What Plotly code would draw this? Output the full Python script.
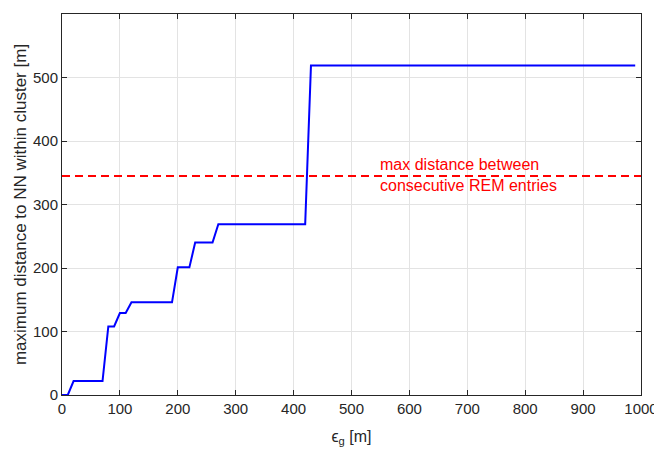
import plotly.graph_objects as go

eps_g = [0, 10, 20, 70, 80, 90, 100, 110, 120, 190, 200, 220, 230, 260, 270, 420, 430, 990]
max_dist = [0, 0, 22, 22, 108, 108, 129, 129, 146, 146, 201, 201, 240, 240, 269, 269, 519, 519]
rem_x = [0, 1000]
rem_y = [345, 345]
x_ticks = list(range(0, 1001, 100))
y_ticks = list(range(0, 601, 100))

fig = go.Figure()
fig.add_trace(go.Scatter(x=eps_g, y=max_dist, mode="lines",
                         line=dict(color="#0000ff", width=2), showlegend=False))
fig.add_trace(go.Scatter(x=rem_x, y=rem_y, mode="lines",
                         line=dict(color="#ff0000", width=2, dash="8px,5px"), showlegend=False))
fig.add_annotation(x=545, y=345, xref="x", yref="y", text="max distance between",
                   showarrow=False, xanchor="left", yanchor="bottom", yshift=1,
                   font=dict(color="#ff0000", size=16))
fig.add_annotation(x=545, y=345, xref="x", yref="y", text="consecutive REM entries",
                   showarrow=False, xanchor="left", yanchor="top", yshift=1,
                   font=dict(color="#ff0000", size=16))

axis_common = dict(showgrid=True, gridcolor="#e3e3e3", gridwidth=1, zeroline=False,
                   showline=True, linecolor="#262626", linewidth=1, mirror="ticks",
                   ticks="inside", ticklen=5, tickcolor="#262626", automargin=False,
                   tickfont=dict(size=15, color="#262626"))
fig.update_xaxes(range=[0, 1000], tickvals=x_ticks,
                 title=dict(text="ϵ<sub>g</sub> [m]", font=dict(size=16, color="#262626"), standoff=14),
                 **axis_common)
fig.update_yaxes(range=[0, 600], tickvals=y_ticks,
                 title=dict(text="maximum distance to NN within cluster [m]", font=dict(size=17, color="#262626"), standoff=2),
                 **axis_common)
# the page body adds an 8px offset, so the figure is sized to fill the remaining window
fig.update_layout(width=654, height=443, margin=dict(l=54, r=21, t=6, b=56),
                  plot_bgcolor="white", paper_bgcolor="white",
                  font=dict(family="Liberation Sans, Arial, sans-serif"))
fig.write_html("out.html")
